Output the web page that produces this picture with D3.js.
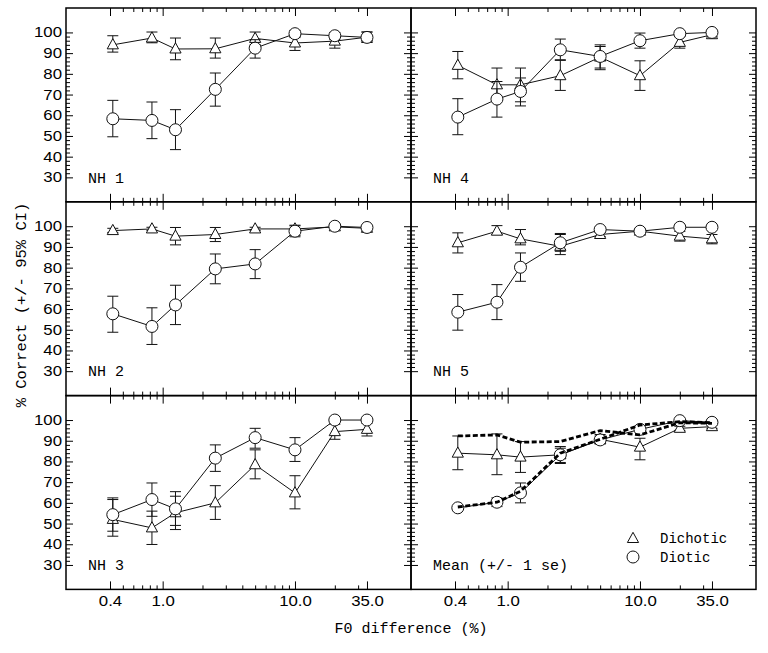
<!DOCTYPE html>
<html><head><meta charset="utf-8">
<script src="https://cdn.jsdelivr.net/npm/d3@7"></script>
<style>body{margin:0;background:#fff} svg{display:block}</style>
</head><body><svg id="c" width="768" height="653"></svg>
<script>
// ---------- data ----------
const xVals = [0.42, 0.83, 1.25, 2.5, 5, 10, 20, 35];
const xMajor = [0.4, 1, 10, 35];
const xTickLabels = ["0.4", "1.0", "10.0", "35.0"];
const xMinor = [0.5, 0.6, 0.7, 0.8, 0.9, 2, 3, 4, 5, 6, 7, 8, 9, 20, 30];
const yMajor = [30, 40, 50, 60, 70, 80, 90, 100];
const yMinor = [32,34,36,38,42,44,46,48,52,54,56,58,62,64,66,68,72,74,76,78,82,84,86,88,92,94,96,98];
const panelLabels = ["NH 1", "NH 2", "NH 3", "NH 4", "NH 5", "Mean (+/- 1 se)"];
const legendLabels = ["Dichotic", "Diotic"];

// NH 1
const nh1Dich   = [94.0, 97.3, 92.0, 92.1, 97.1, 94.9, 95.8, 97.7];
const nh1DichLo = [90.5, 95.0, 86.8, 87.6, 94.0, 91.3, 92.4, 95.2];
const nh1DichHi = [98.4, 100.2, 97.3, 97.3, 100.2, 98.0, 98.6, 100.2];
const nh1Diot   = [58.3, 57.5, 53.0, 72.5, 92.4, 99.4, 98.4, 97.6];
const nh1DiotLo = [49.6, 48.7, 43.4, 64.4, 87.6, 97.5, 96.5, 95.2];
const nh1DiotHi = [67.2, 66.4, 62.7, 80.4, 96.5, 101.0, 100.0, 100.2];
// NH 2
const nh2Dich   = [97.9, 98.7, 95.2, 96.0, 98.7, 98.7, 99.7, 99.0];
const nh2DichLo = [97.0, 98.0, 91.0, 92.6, 98.0, 95.5, 99.0, 98.3];
const nh2DichHi = [99.0, 99.5, 99.4, 99.4, 99.5, 100.5, 100.3, 99.7];
const nh2Diot   = [57.7, 51.6, 62.0, 79.4, 81.8, 97.6, 100.0, 99.4];
const nh2DiotLo = [48.8, 42.9, 52.5, 72.2, 74.7, 94.9, 99.5, 98.5];
const nh2DiotHi = [66.2, 60.6, 71.5, 86.6, 88.7, 100.2, 100.5, 100.2];
// NH 3
const nh3Dich   = [52.0, 47.9, 55.2, 60.0, 78.4, 64.8, 94.4, 95.5];
const nh3DichLo = [43.9, 39.9, 47.1, 52.0, 71.6, 57.1, 90.7, 92.3];
const nh3DichHi = [61.6, 56.0, 63.2, 68.3, 85.6, 73.1, 98.0, 98.5];
const nh3Diot   = [54.3, 61.6, 57.1, 81.6, 91.5, 85.6, 100.0, 100.0];
const nh3DiotLo = [46.3, 53.5, 49.1, 75.2, 86.4, 80.0, 99.5, 99.5];
const nh3DiotHi = [62.4, 69.6, 65.4, 88.0, 96.0, 91.5, 100.5, 100.5];
// NH 4
const nh4Dich   = [84.1, 74.7, 74.7, 79.1, 88.1, 79.1, 95.2, 98.9];
const nh4DichLo = [77.6, 67.5, 66.5, 72.0, 82.0, 72.0, 92.4, 98.0];
const nh4DichHi = [90.8, 82.8, 82.8, 86.5, 94.0, 86.3, 98.0, 99.8];
const nh4Diot   = [59.1, 67.8, 71.5, 91.6, 88.4, 96.0, 99.4, 100.0];
const nh4DiotLo = [50.6, 59.1, 64.5, 86.8, 82.8, 92.4, 98.5, 99.3];
const nh4DiotHi = [68.0, 76.3, 78.0, 96.8, 93.2, 99.7, 100.3, 100.5];
// NH 5
const nh5Dich   = [92.0, 97.6, 93.9, 90.3, 96.0, 97.6, 95.2, 93.9];
const nh5DichLo = [87.1, 96.0, 91.0, 86.3, 95.0, 96.8, 92.8, 91.5];
const nh5DichHi = [96.8, 100.3, 98.4, 96.5, 97.5, 98.5, 97.5, 96.0];
const nh5Diot   = [58.5, 63.3, 80.2, 92.0, 98.4, 97.6, 99.5, 99.5];
const nh5DiotLo = [49.8, 54.9, 73.4, 87.9, 97.0, 96.5, 99.0, 99.0];
const nh5DiotHi = [67.0, 71.8, 87.1, 96.0, 99.5, 98.8, 100.0, 100.0];
// Mean (+/- 1 se)
const meanDich   = [84.0, 83.2, 82.1, 83.2, 90.7, 86.9, 96.0, 96.8];
const meanDichLo = [76.0, 73.6, 74.7, 79.0, 88.5, 80.8, 95.0, 96.0];
const meanDichHi = [92.3, 93.3, 89.6, 87.2, 93.0, 91.2, 97.0, 97.6];
const meanDiot   = [57.6, 60.3, 64.8, 83.2, 90.4, 95.5, 99.7, 98.9];
const meanDiotLo = [57.0, 58.2, 60.0, 79.5, 88.5, 94.5, 99.2, 98.4];
const meanDiotHi = [58.2, 62.4, 69.6, 86.4, 92.3, 96.5, 100.2, 99.4];
// dashed curves in the Mean panel
const meanDashA = [92.3, 92.8, 89.3, 89.6, 94.9, 92.8, 98.7, 98.4];
const meanDashB = [58.0, 60.3, 65.6, 84.0, 90.7, 97.6, 99.2, 98.7];

// ---------- layout ----------
const svg = d3.select("#c");
const PL = 66, PT = 8, PW = 345, PH = 193.8;
const x = d3.scaleLog().domain([0.186, 75.3]).range([0, PW]);
const y = d3.scaleLinear().domain([18.2, 111.8]).range([PH, 0]);
const INK = "#111";
const SANS = "'Liberation Sans', Arial, sans-serif";
const MONO = "'Liberation Mono', 'DejaVu Sans Mono', monospace";
const SX = 1.2;

const panels = [
  {c:0, r:0, label:panelLabels[0], d:[nh1Dich,nh1DichLo,nh1DichHi], o:[nh1Diot,nh1DiotLo,nh1DiotHi]},
  {c:0, r:1, label:panelLabels[1], d:[nh2Dich,nh2DichLo,nh2DichHi], o:[nh2Diot,nh2DiotLo,nh2DiotHi]},
  {c:0, r:2, label:panelLabels[2], d:[nh3Dich,nh3DichLo,nh3DichHi], o:[nh3Diot,nh3DiotLo,nh3DiotHi]},
  {c:1, r:0, label:panelLabels[3], d:[nh4Dich,nh4DichLo,nh4DichHi], o:[nh4Diot,nh4DiotLo,nh4DiotHi]},
  {c:1, r:1, label:panelLabels[4], d:[nh5Dich,nh5DichLo,nh5DichHi], o:[nh5Diot,nh5DiotLo,nh5DiotHi]},
  {c:1, r:2, label:panelLabels[5], d:[meanDich,meanDichLo,meanDichHi], o:[meanDiot,meanDiotLo,meanDiotHi], dash:[meanDashA, meanDashB]}
];

const triPath = "M0,-6.2L5.6,4L-5.6,4Z";
const line = d3.line().x((d,i)=>x(xVals[i])).y(d=>y(d));

function styleAxis(sel) {
  sel.select(".domain").remove();
  sel.selectAll(".tick line").attr("stroke", "#000").attr("stroke-width", 1);
}

panels.forEach(p => {
  const g = svg.append("g").attr("transform", `translate(${PL + p.c*PW},${PT + p.r*PH})`);

  // ticks: x top & bottom
  const bottomRow = p.r === 2;
  const xb = g.append("g").attr("transform", `translate(0,${PH})`)
    .call(d3.axisBottom(x).tickValues(xMajor).tickSize(-8).tickPadding(7)
      .tickFormat((d,i) => bottomRow ? xTickLabels[i] : ""));
  styleAxis(xb);
  g.append("g").attr("transform", `translate(0,${PH})`)
    .call(d3.axisBottom(x).tickValues(xMinor).tickSize(-4).tickFormat("")).call(styleAxis);
  g.append("g").call(d3.axisTop(x).tickValues(xMajor).tickSize(-8).tickFormat("")).call(styleAxis);
  g.append("g").call(d3.axisTop(x).tickValues(xMinor).tickSize(-4).tickFormat("")).call(styleAxis);
  if (bottomRow) {
    xb.selectAll(".tick text").attr("fill", "#000")
      .style("font-family", SANS).style("font-size", "14px")
      .attr("transform", `scale(${SX},1)`);
  }

  // ticks: y left & right
  const leftCol = p.c === 0;
  const yl = g.append("g")
    .call(d3.axisLeft(y).tickValues(yMajor).tickSize(-7).tickPadding(4)
      .tickFormat(d => leftCol ? String(d) : ""));
  styleAxis(yl);
  if (leftCol) {
    yl.selectAll(".tick text").attr("fill", "#000")
      .style("font-family", SANS).style("font-size", "14px")
      .attr("x", -4 / SX).attr("transform", `scale(${SX},1)`);
  }
  g.append("g").call(d3.axisLeft(y).tickValues(yMinor).tickSize(-4).tickFormat("")).call(styleAxis);
  g.append("g").attr("transform", `translate(${PW},0)`)
    .call(d3.axisRight(y).tickValues(yMajor).tickSize(-7).tickFormat("")).call(styleAxis);
  g.append("g").attr("transform", `translate(${PW},0)`)
    .call(d3.axisRight(y).tickValues(yMinor).tickSize(-4).tickFormat("")).call(styleAxis);

  // frame
  g.append("rect").attr("width", PW).attr("height", PH)
    .attr("fill", "none").attr("stroke", "#000").attr("stroke-width", 1.5);

  // series: dichotic (triangles) then diotic (circles)
  [[p.d, "tri"], [p.o, "circ"]].forEach(([s, kind]) => {
    const [v, lo, hi] = s;
    g.append("path").datum(v).attr("d", line)
      .attr("fill", "none").attr("stroke", INK).attr("stroke-width", 1);
    const eb = g.append("g").attr("stroke", INK).attr("stroke-width", 1).attr("fill", "none");
    v.forEach((val, i) => {
      const cx = x(xVals[i]);
      eb.append("line").attr("x1", cx).attr("x2", cx).attr("y1", y(lo[i])).attr("y2", y(hi[i]));
      eb.append("line").attr("x1", cx-5.5).attr("x2", cx+5.5).attr("y1", y(lo[i])).attr("y2", y(lo[i]));
      eb.append("line").attr("x1", cx-5.5).attr("x2", cx+5.5).attr("y1", y(hi[i])).attr("y2", y(hi[i]));
    });
    const mk = g.append("g");
    v.forEach((val, i) => {
      if (kind === "tri") {
        mk.append("path").attr("d", triPath)
          .attr("transform", `translate(${x(xVals[i])},${y(val)})`)
          .attr("fill", "#fff").attr("stroke", INK).attr("stroke-width", 1);
      } else {
        mk.append("circle").attr("cx", x(xVals[i])).attr("cy", y(val)).attr("r", 6)
          .attr("fill", "#fff").attr("stroke", INK).attr("stroke-width", 1);
      }
    });
  });

  if (p.dash) {
    p.dash.forEach(s => {
      g.append("path").datum(s).attr("d", line)
        .attr("fill", "none").attr("stroke", "#000").attr("stroke-width", 2.8)
        .attr("stroke-dasharray", "5,2.5");
    });
  }

  // panel label
  g.append("text").attr("x", 22).attr("y", 174.5).text(p.label)
    .style("font-family", MONO).style("font-size", "15px").attr("fill", "#000")
    .attr("xml:space", "preserve");

  // legend in mean panel
  if (p.dash) {
    const lx = 222, ly1 = 530.5 - PT - 2*PH + 8, ly2 = ly1 + 18.5;
    g.append("path").attr("d", triPath).attr("transform", `translate(${lx},${ly1})`)
      .attr("fill", "#fff").attr("stroke", INK).attr("stroke-width", 1);
    g.append("circle").attr("cx", lx).attr("cy", ly2).attr("r", 6)
      .attr("fill", "#fff").attr("stroke", INK).attr("stroke-width", 1);
    g.append("text").attr("x", lx + 27).attr("y", ly1 + 5).text(legendLabels[0])
      .style("font-family", MONO).style("font-size", "14px").attr("fill", "#000");
    g.append("text").attr("x", lx + 27).attr("y", ly2 + 5).text(legendLabels[1])
      .style("font-family", MONO).style("font-size", "14px").attr("fill", "#000");
  }
});

// axis titles
svg.append("text").attr("x", PL + PW).attr("y", 633).attr("text-anchor", "middle")
  .text("F0 difference (%)").style("font-family", MONO).style("font-size", "15px").attr("fill", "#000");
svg.append("text").attr("transform", "translate(26,305) rotate(-90)").attr("text-anchor", "middle")
  .text("% Correct (+/- 95% CI)").style("font-family", MONO).style("font-size", "15.5px").attr("fill", "#000");
</script></body></html>
